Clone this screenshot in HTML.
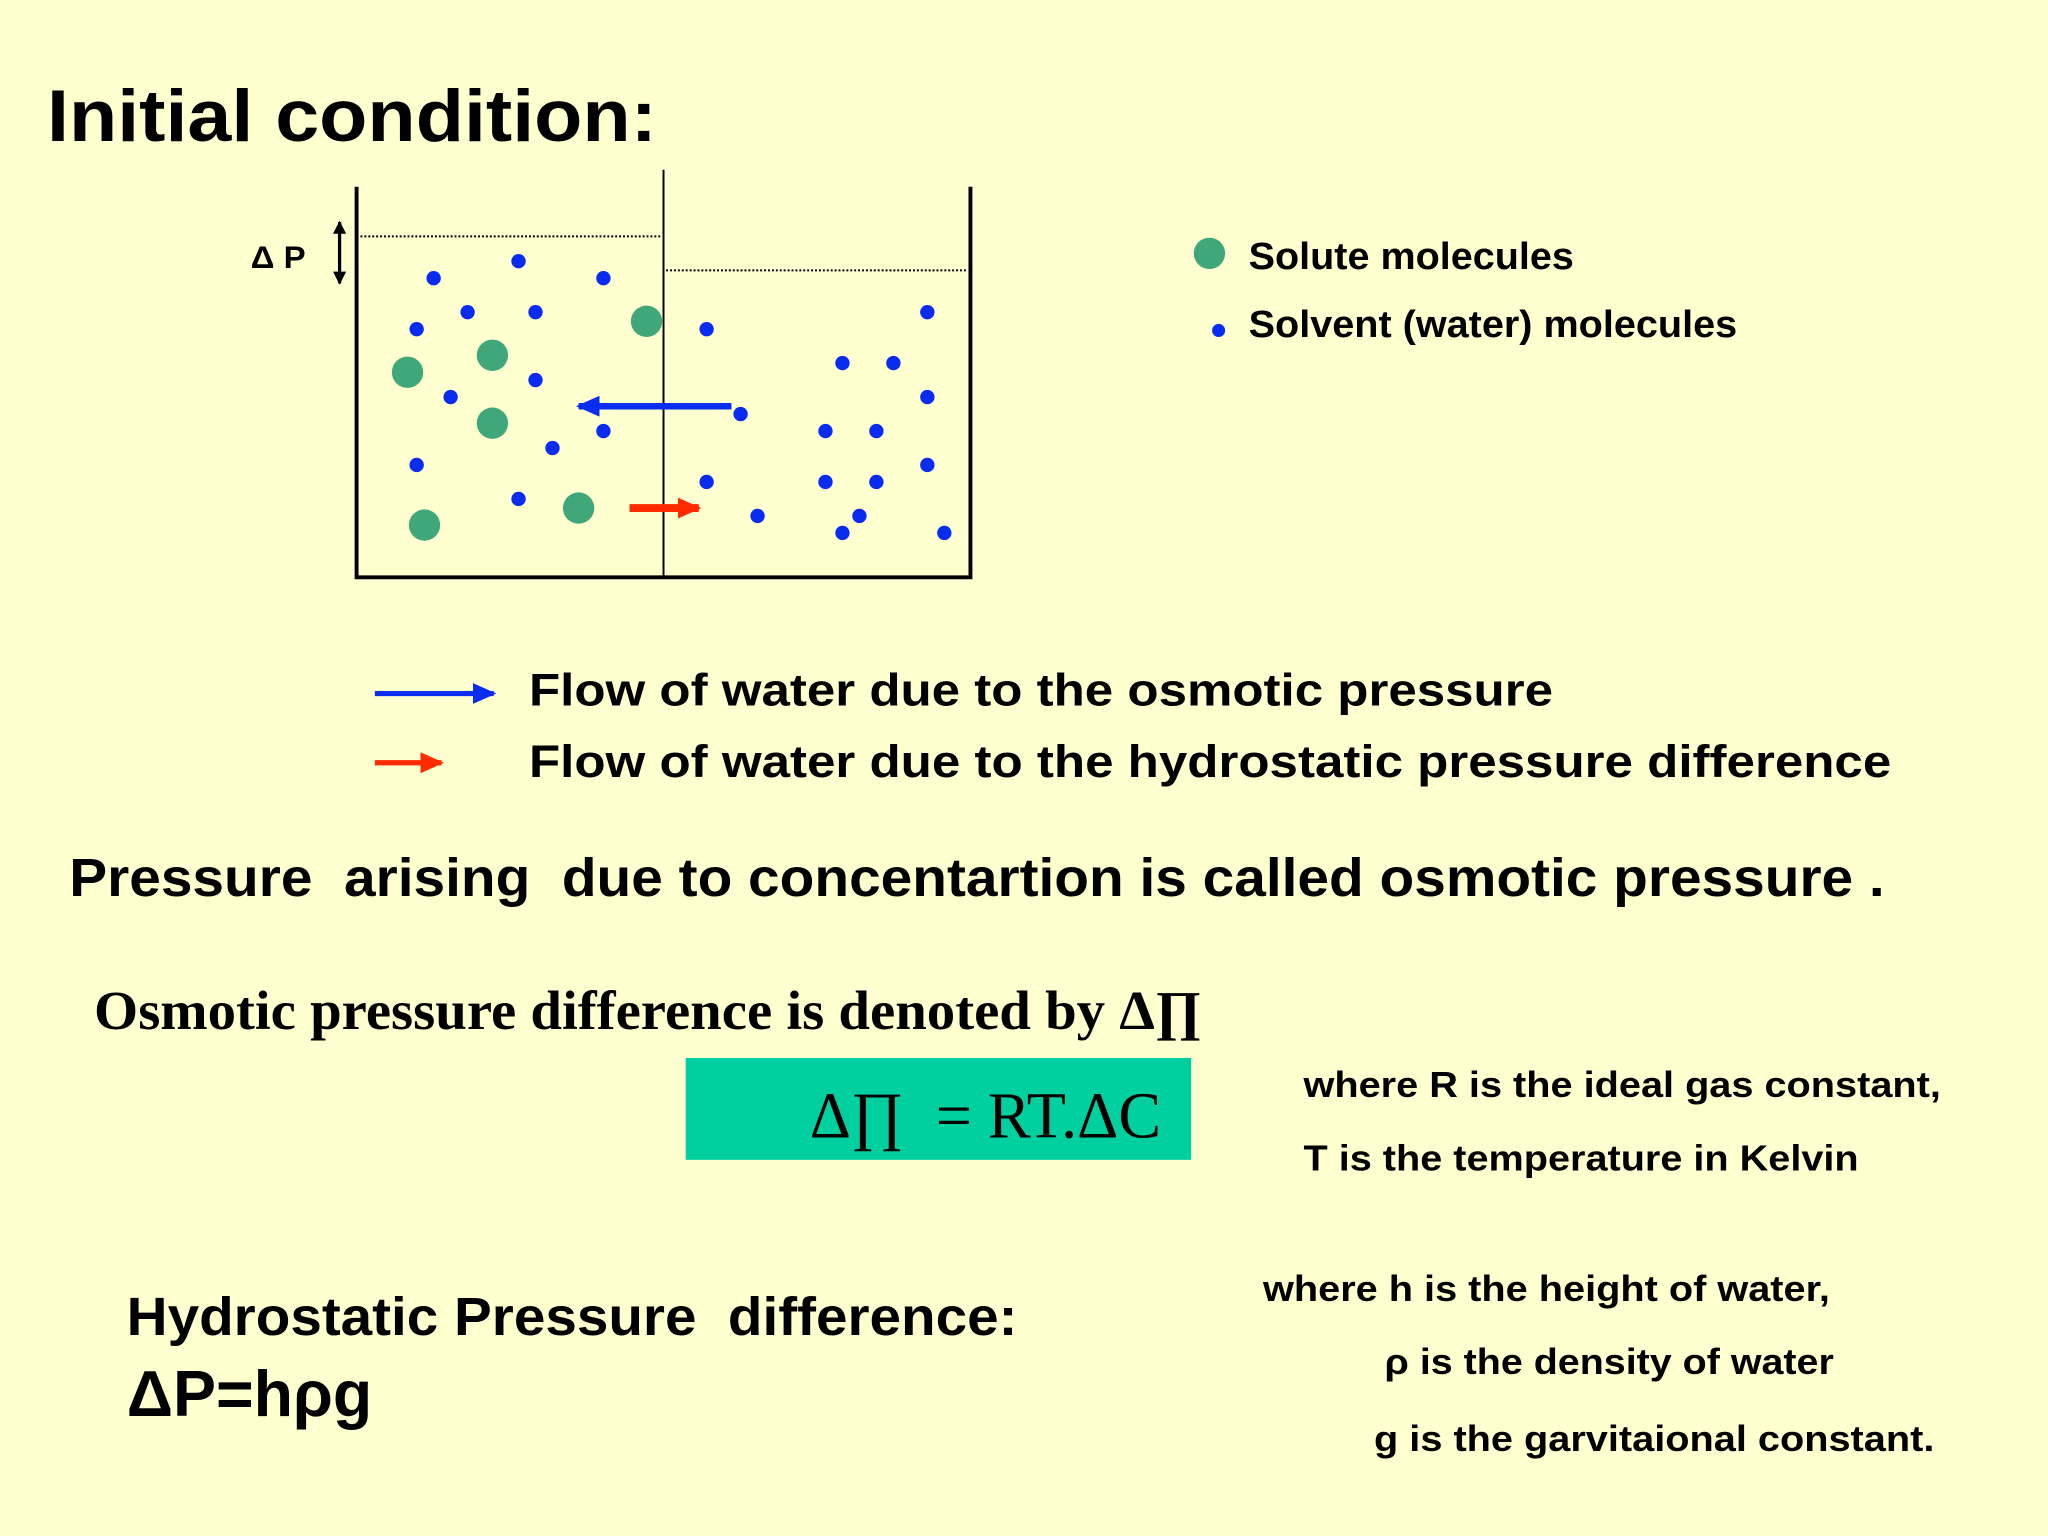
<!DOCTYPE html>
<html><head><meta charset="utf-8"><style>
html,body{margin:0;padding:0;background:#ffffd0;}
svg{display:block}
.b{font-family:"Liberation Sans",sans-serif;font-weight:bold;fill:#000}
.s{font-family:"Liberation Serif",serif;fill:#000}
</style></head><body>
<svg width="2048" height="1536" viewBox="0 0 1568 1176" xmlns="http://www.w3.org/2000/svg">
<defs>
<marker id="bh" markerWidth="18" markerHeight="16" refX="16" refY="8" orient="auto" markerUnits="userSpaceOnUse"><path d="M0,0 L18,8 L0,16z" fill="#0a2cf0"/></marker>
<marker id="rh" markerWidth="18" markerHeight="16" refX="16" refY="8" orient="auto" markerUnits="userSpaceOnUse"><path d="M0,0 L18,8 L0,16z" fill="#ff2a00"/></marker>
<marker id="kh" markerWidth="10" markerHeight="10" refX="9" refY="5" orient="auto-start-reverse" markerUnits="userSpaceOnUse"><path d="M0,0 L10,5 L0,10z" fill="#000"/></marker>
</defs>
<rect width="1568" height="1176" fill="#ffffd0"/>
<text x="36" y="108" class="b" font-size="56" textLength="467" lengthAdjust="spacingAndGlyphs">Initial condition:</text>

<g>
<path d="M273,143 V442 H743 V143" fill="none" stroke="#000" stroke-width="3"/>
<line x1="508" y1="130" x2="508" y2="442" stroke="#000" stroke-width="1.5"/>
<line x1="276" y1="181" x2="507" y2="181" stroke="#000" stroke-width="1.5" stroke-dasharray="1.5,1.5"/>
<line x1="510" y1="207" x2="741" y2="207" stroke="#000" stroke-width="1.5" stroke-dasharray="1.5,1.5"/>
</g>
<text x="192" y="205" class="b" font-size="24" textLength="42" lengthAdjust="spacingAndGlyphs">Δ P</text>
<line x1="260" y1="170" x2="260" y2="217" stroke="#000" stroke-width="2.5" marker-start="url(#kh)" marker-end="url(#kh)"/>

<g fill="#0a2cf0">
<circle cx="332" cy="213" r="5.5"/><circle cx="397" cy="200" r="5.5"/><circle cx="462" cy="213" r="5.5"/>
<circle cx="319" cy="252" r="5.5"/><circle cx="358" cy="239" r="5.5"/><circle cx="410" cy="239" r="5.5"/>
<circle cx="345" cy="304" r="5.5"/><circle cx="410" cy="291" r="5.5"/><circle cx="462" cy="330" r="5.5"/>
<circle cx="423" cy="343" r="5.5"/><circle cx="319" cy="356" r="5.5"/><circle cx="397" cy="382" r="5.5"/>
<circle cx="541" cy="252" r="5.5"/><circle cx="567" cy="317" r="5.5"/><circle cx="541" cy="369" r="5.5"/>
<circle cx="580" cy="395" r="5.5"/><circle cx="645" cy="278" r="5.5"/><circle cx="684" cy="278" r="5.5"/>
<circle cx="710" cy="239" r="5.5"/><circle cx="710" cy="304" r="5.5"/><circle cx="632" cy="330" r="5.5"/>
<circle cx="671" cy="330" r="5.5"/><circle cx="632" cy="369" r="5.5"/><circle cx="671" cy="369" r="5.5"/>
<circle cx="710" cy="356" r="5.5"/><circle cx="658" cy="395" r="5.5"/><circle cx="645" cy="408" r="5.5"/>
<circle cx="723" cy="408" r="5.5"/>
</g>
<g fill="#3fa77a">
<circle cx="495" cy="246" r="12"/><circle cx="377" cy="272" r="12"/><circle cx="312" cy="285" r="12"/>
<circle cx="377" cy="324" r="12"/><circle cx="443" cy="389" r="12"/><circle cx="325" cy="402" r="12"/>
</g>
<line x1="560" y1="311" x2="443" y2="311" stroke="#0a2cf0" stroke-width="5" marker-end="url(#bh)"/>
<line x1="482" y1="389" x2="535" y2="389" stroke="#ff2a00" stroke-width="6" marker-end="url(#rh)"/>

<circle cx="926" cy="194" r="12" fill="#3fa77a"/>
<text x="956" y="206" class="b" font-size="29" textLength="249" lengthAdjust="spacingAndGlyphs">Solute molecules</text>
<circle cx="933" cy="253" r="5" fill="#0a2cf0"/>
<text x="956" y="258" class="b" font-size="29" textLength="374" lengthAdjust="spacingAndGlyphs">Solvent (water) molecules</text>

<line x1="287" y1="531" x2="378" y2="531" stroke="#0a2cf0" stroke-width="4" marker-end="url(#bh)"/>
<text x="405" y="540" class="b" font-size="35" textLength="784" lengthAdjust="spacingAndGlyphs">Flow of water due to the osmotic pressure</text>
<line x1="287" y1="584" x2="338" y2="584" stroke="#ff2a00" stroke-width="4" marker-end="url(#rh)"/>
<text x="405" y="595" class="b" font-size="35" textLength="1043" lengthAdjust="spacingAndGlyphs">Flow of water due to the hydrostatic pressure difference</text>

<text x="53" y="686" class="b" font-size="41" xml:space="preserve" textLength="1390" lengthAdjust="spacingAndGlyphs">Pressure  arising  due to concentartion is called osmotic pressure .</text>
<text x="72" y="788" class="s" font-size="42" font-weight="bold" textLength="848" lengthAdjust="spacingAndGlyphs">Osmotic pressure difference is denoted by Δ∏</text>
<rect x="525" y="810" width="387" height="78" fill="#00cfa0"/>
<text x="620" y="871" class="s" font-size="50" xml:space="preserve" textLength="269" lengthAdjust="spacingAndGlyphs">Δ∏  = RT.ΔC</text>
<text x="998" y="840" class="b" font-size="28" textLength="488" lengthAdjust="spacingAndGlyphs">where R is the ideal gas constant,</text>
<text x="998" y="896" class="b" font-size="28" textLength="425" lengthAdjust="spacingAndGlyphs">T is the temperature in Kelvin</text>

<text x="97" y="1022" class="b" font-size="41" xml:space="preserve" textLength="682" lengthAdjust="spacingAndGlyphs">Hydrostatic Pressure  difference:</text>
<text x="97" y="1084" class="b" font-size="50" textLength="188" lengthAdjust="spacingAndGlyphs">ΔP=hρg</text>
<text x="967" y="996" class="b" font-size="28" textLength="434" lengthAdjust="spacingAndGlyphs">where h is the height of water,</text>
<text x="1060" y="1052" class="b" font-size="28" textLength="344" lengthAdjust="spacingAndGlyphs">ρ is the density of water</text>
<text x="1052" y="1111" class="b" font-size="28" textLength="429" lengthAdjust="spacingAndGlyphs">g is the garvitaional constant.</text>
</svg>
</body></html>
